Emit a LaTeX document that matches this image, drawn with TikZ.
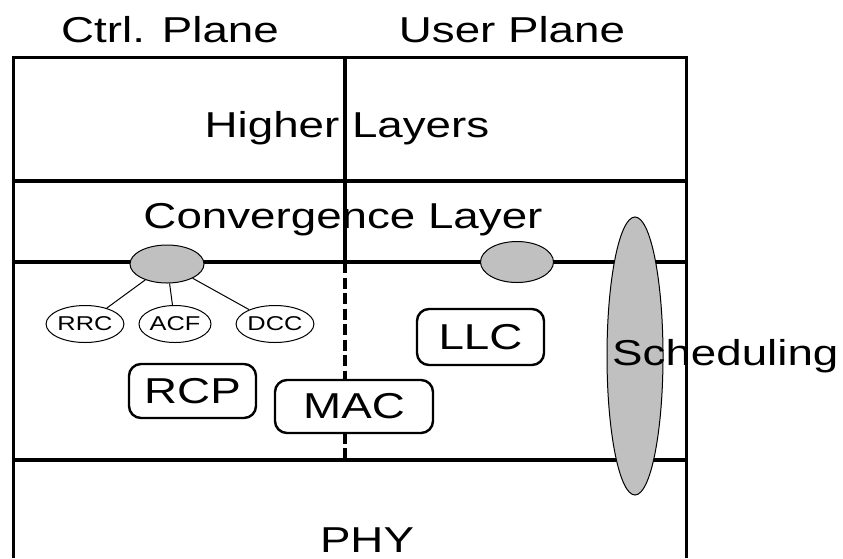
\documentclass[tikz,border=0pt]{standalone}
\usepackage{fontspec}
\setmainfont{Liberation Sans}
\usetikzlibrary{shapes.geometric}
\definecolor{shade}{RGB}{192,192,192}
% horizontally widened lettering used throughout the stack
\newcommand\stretchtxt[1]{\scalebox{1.27}[1]{#1}}
\begin{document}
\begin{tikzpicture}[x=1pt,y=-1pt,
  frame/.style={line width=3pt},
  divider/.style={line width=3.4pt},
  planeline/.style={line width=3.2pt},
  big/.style={font=\fontsize{36}{42}\selectfont, inner sep=0pt},
  small/.style={font=\fontsize{20}{24}\selectfont},
  graydot/.style={ellipse, draw, line width=1pt, fill=shade, inner sep=0pt},
  subfn/.style={ellipse, draw, line width=1pt, fill=white, inner sep=0pt,
    minimum width=72pt, minimum height=37pt, small},
  link/.style={line width=1pt},
  layerbox/.style={rectangle, rounded corners=12pt, draw, line width=2.4pt,
    fill=white, inner sep=0pt, big}]
\useasboundingbox (0,0) rectangle (843,558);

% outer frame and layer boundaries
\draw[frame] (13,558) -- (13,57) -- (686,57) -- (686,558);
\draw[divider] (13,181) -- (686,181);
\draw[divider] (13,262) -- (686,262);
\draw[divider] (13,460) -- (686,460);

% split between control and user plane
\draw[planeline] (345,57) -- (345,262);
\draw[planeline, dash pattern=on 11pt off 4.5pt] (345,262) -- (345,460);

% service access points and scheduling
\node[graydot, minimum width=74pt, minimum height=38pt] (cpsap) at (167,264) {};
\node[graydot, minimum width=73pt, minimum height=41pt] (upsap) at (517,262) {};
\node[graydot, minimum width=56pt, minimum height=278pt] (sched) at (635,356) {};

% control functions
\node[subfn] (rrc) at (85,324) {\stretchtxt{RRC}};
\node[subfn] (acf) at (175,324) {\stretchtxt{ACF}};
\node[subfn] (dcc) at (275,324) {\stretchtxt{DCC}};
\draw[link] (cpsap) -- (rrc);
\draw[link] (cpsap) -- (acf);
\draw[link] (cpsap) -- (dcc);

% protocol boxes
\node[layerbox, minimum width=127pt, minimum height=56pt] (llc) at (480.5,337) {\stretchtxt{LLC}};
\node[layerbox, minimum width=127pt, minimum height=54pt] (rcp) at (192.5,391) {\stretchtxt{RCP}};
\node[layerbox, minimum width=158pt, minimum height=53pt] (mac) at (354,406.5) {\stretchtxt{MAC}};

% headings and layer names
\node[big, anchor=base] (ctrl) at (170,42) {\stretchtxt{Ctrl. Plane}};
\node[big, anchor=base] (user) at (512,42) {\stretchtxt{User Plane}};
\node[big, anchor=base] (higher) at (347,137) {\stretchtxt{Higher Layers}};
\node[big, anchor=base] (conv) at (343,228) {\stretchtxt{Convergence Layer}};
\node[big, anchor=base west] (schedtxt) at (612,365) {\stretchtxt{Scheduling}};
\node[big, anchor=base] (phy) at (367,552) {\stretchtxt{PHY}};
\end{tikzpicture}
\end{document}
